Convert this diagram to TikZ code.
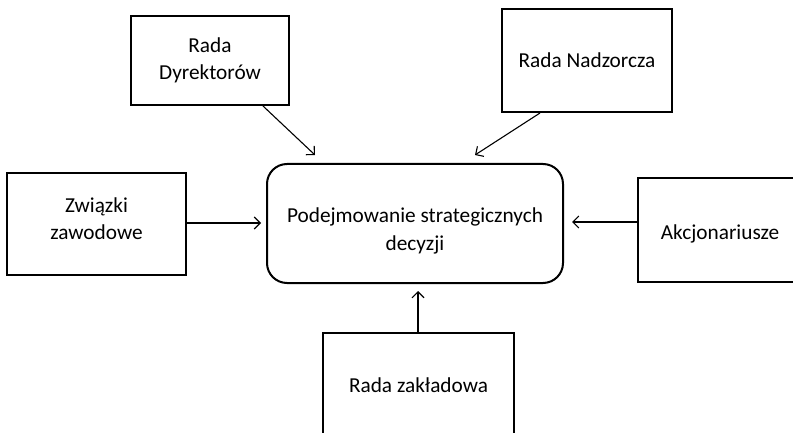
\documentclass[tikz,border=0pt]{standalone}
\usepackage{fontspec}
\setmainfont{Carlito}
\usetikzlibrary{arrows.meta}
\begin{document}
\begin{tikzpicture}[x=1pt,y=-1pt,
  font=\fontsize{21.3}{27.5}\selectfont,
  box/.style={draw=black,line width=2pt,rectangle,inner sep=0pt},
  core/.style={box,rounded corners=20pt},
  txt/.style={align=center,inner sep=0pt},
  arr/.style={line width=1.1pt,-{Straight Barb[length=6pt,width=12pt,line width=1.1pt]}}]
\useasboundingbox (0,0) rectangle (793,433);
\clip (0,0) rectangle (793,433);
% surrounding boxes
\node[box,minimum width=158pt,minimum height=89pt] (dyr) at (210,60.5) {};
\node[box,minimum width=170pt,minimum height=103pt] (nad) at (587,60.5) {};
\node[box,minimum width=179pt,minimum height=102pt] (zw) at (96.5,224) {};
\node[box,minimum width=164pt,minimum height=104pt] (akc) at (720,230) {};
\node[box,minimum width=191pt,minimum height=110pt] (zak) at (418.5,388) {};
% central decision box
\node[core,minimum width=296pt,minimum height=119pt] (cen) at (415,223.5) {};
% box labels
\node[txt] (dyr-t) at (dyr.center) {Rada\\Dyrektorów};
\node[txt] (nad-t) at (nad.center) {Rada Nadzorcza};
\node[txt] (zw-t) at ([yshift=5.5pt]zw.center) {Związki\\zawodowe};
\node[txt] (akc-t) at ([yshift=-3.5pt]akc.center) {Akcjonariusze};
\node[txt] (zak-t) at ([yshift=2.5pt]zak.center) {Rada zakładowa};
\node[txt] (cen-t) at ([yshift=-7.5pt]cen.center) {Podejmowanie strategicznych\\decyzji};
% arrow heads stop short of the central box
\coordinate (tdyr) at (315,155);
\coordinate (tnad) at (475,155);
\draw[arr] (dyr.south -| 263,0) -- (tdyr);
\draw[arr] (nad.south -| 540,0) -- (tnad);
\draw[arr] (zw.east |- 0,223) -- ([xshift=-5pt]cen.west |- 0,223);
\draw[arr] (akc.west |- 0,222) -- ([xshift=8pt]cen.east |- 0,222);
\draw[arr] (zak.north -| 418,0) -- ([yshift=-7pt]cen.south -| 418,0);
\end{tikzpicture}
\end{document}
